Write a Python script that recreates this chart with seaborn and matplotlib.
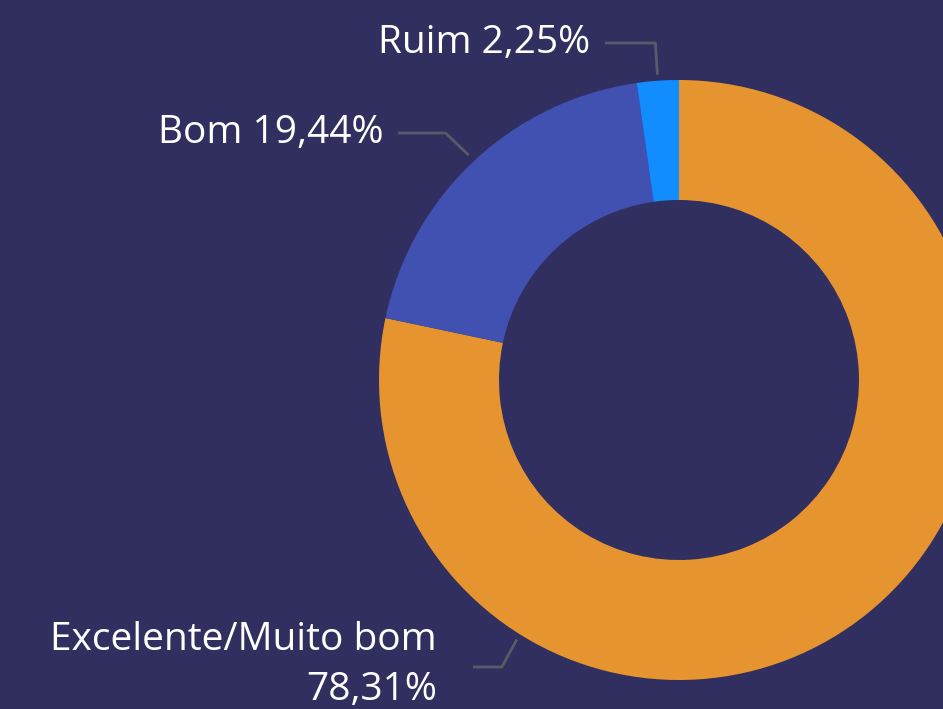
import numpy as np
import matplotlib.pyplot as plt
import seaborn as sns

# avaliação - share of answers
categorias = ["Excelente/Muito bom", "Bom", "Ruim"]
percentuais = [78.31, 19.44, 2.25]
cores = ["#E6942F", "#4151B1", "#118DFF"]

W, H = 943, 709
centro = (679, H - 380)
raio = 300
espessura = 120
fundo = "#302F60"

sns.set_theme(style="white")
plt.rcParams["font.family"] = ["Open Sans", "DejaVu Sans"]

fig = plt.figure(figsize=(W / 100, H / 100), dpi=100, facecolor=fundo)
ax = fig.add_axes([0, 0, 1, 1])
ax.set_facecolor(fundo)

wedges, _ = ax.pie(percentuais, colors=cores, startangle=90, counterclock=False,
                   center=centro, radius=raio, frame=True,
                   wedgeprops=dict(width=espessura, linewidth=0))
ax.set_xlim(0, W)
ax.set_ylim(0, H)
ax.set_aspect("equal")
ax.axis("off")


def fmt(v):
    return f"{v:.2f}".replace(".", ",") + "%"


def ponto(ang, r):
    a = np.deg2rad(ang)
    return centro[0] + r * np.cos(a), centro[1] + r * np.sin(a)


linha = dict(color="#5A5A66", lw=2, solid_capstyle="butt")
fs = 28

# Ruim: label above, leader drops to wedge middle
w = wedges[2]
mid = (w.theta1 + w.theta2) / 2
x1, y1 = ponto(mid, raio + 6)
ly = H - 43
ax.plot([605, x1 - 2, x1], [ly, ly, y1], **linha)
ax.text(590, ly, f"{categorias[2]} {fmt(percentuais[2])}", ha="right", va="center",
        fontsize=fs, color="white")

# Bom
w = wedges[1]
mid = (w.theta1 + w.theta2) / 2
x1, y1 = ponto(mid, raio + 8)
ly = H - 133
ax.plot([398, x1 - 23, x1], [ly, ly, y1], **linha)
ax.text(383, ly, f"{categorias[1]} {fmt(percentuais[1])}", ha="right", va="center",
        fontsize=fs, color="white")

# Excelente/Muito bom: label at lower left
x1, y1 = ponto(238, raio + 6)
ly = H - 667
ax.plot([473, x1 - 15, x1], [ly, ly, y1], **linha)
ax.text(437, H - 640, categorias[0], ha="right", va="center", fontsize=fs, color="white")
ax.text(437, H - 690, fmt(percentuais[0]), ha="right", va="center", fontsize=fs, color="white")

fig.savefig("out.png", dpi=100, facecolor=fundo)
